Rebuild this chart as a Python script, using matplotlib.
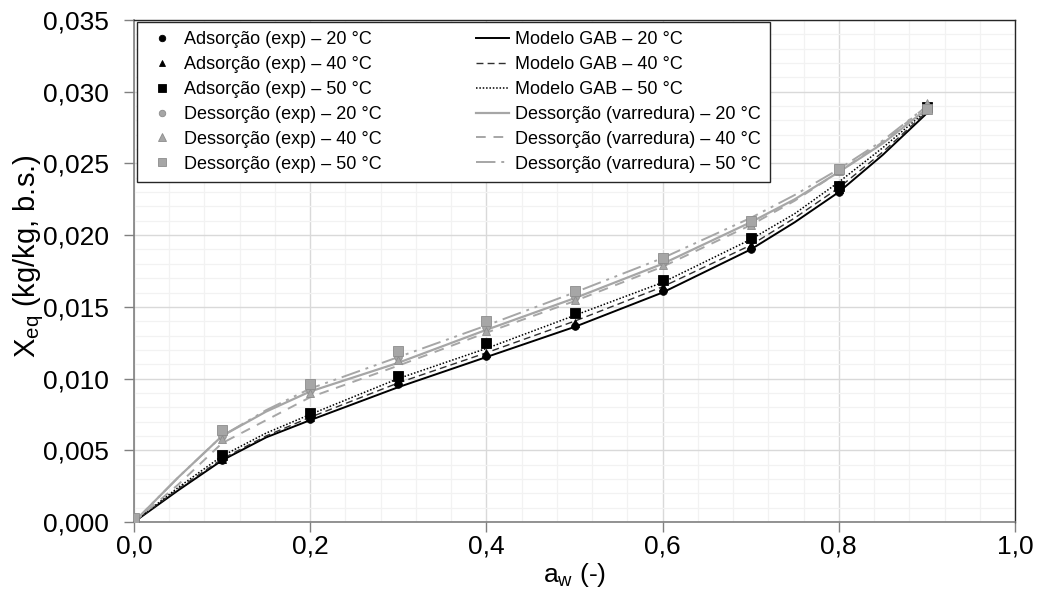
import matplotlib
matplotlib.use('Agg')
import matplotlib.pyplot as plt
from matplotlib.lines import Line2D
from matplotlib.ticker import MultipleLocator, FuncFormatter

###############################################################################
#0. Data
###############################################################################

#Experimental points
awExp = [0.0, 0.1, 0.2, 0.3, 0.4, 0.5, 0.6, 0.7, 0.8, 0.9]
ads20 = [0.0000, 0.0043, 0.0072, 0.0096, 0.0116, 0.0137, 0.0161, 0.0190, 0.0230, 0.0287]
ads40 = [0.0000, 0.0044, 0.0073, 0.0098, 0.0118, 0.0139, 0.0164, 0.0193, 0.0232, 0.0288]
ads50 = [0.0000, 0.0047, 0.0076, 0.0102, 0.0125, 0.0146, 0.0169, 0.0198, 0.0234, 0.0289]
des20 = [0.0003, 0.0060, 0.0092, 0.0115, 0.0136, 0.0157, 0.0181, 0.0208, 0.0245, 0.0289]
des40 = [0.0003, 0.0058, 0.0090, 0.0113, 0.0133, 0.0155, 0.0179, 0.0207, 0.0245, 0.0292]
des50 = [0.0003, 0.0064, 0.0096, 0.0119, 0.0140, 0.0161, 0.0184, 0.0210, 0.0246, 0.0288]

#Model / scanning curves
awFit = [0.0, 0.05, 0.1, 0.15, 0.2, 0.3, 0.4, 0.5, 0.6, 0.7, 0.75, 0.8, 0.85, 0.9]
gab20 = [0, 0.0022, 0.0043, 0.0059, 0.0071, 0.0094, 0.0115, 0.0136, 0.0160, 0.0190, 0.0209, 0.0230, 0.0256, 0.0285]
gab40 = [0, 0.0023, 0.0044, 0.0060, 0.0073, 0.0097, 0.0118, 0.0140, 0.0164, 0.0193, 0.0212, 0.0233, 0.0258, 0.0286]
gab50 = [0, 0.0024, 0.0046, 0.0062, 0.0075, 0.0100, 0.0121, 0.0144, 0.0167, 0.0197, 0.0215, 0.0237, 0.0261, 0.0287]
var20 = [0, 0.0031, 0.0060, 0.0077, 0.0091, 0.0111, 0.0134, 0.0156, 0.0180, 0.0209, 0.0225, 0.0244, 0.0264, 0.0288]
var40 = [0, 0.0026, 0.0055, 0.0071, 0.0087, 0.0109, 0.0132, 0.0154, 0.0178, 0.0207, 0.0224, 0.0244, 0.0265, 0.0290]
var50 = [0, 0.0031, 0.0060, 0.0078, 0.0093, 0.0115, 0.0137, 0.0160, 0.0184, 0.0212, 0.0228, 0.0246, 0.0266, 0.0290]

expLabels = ['Adsorção (exp) – 20 °C', 'Adsorção (exp) – 40 °C', 'Adsorção (exp) – 50 °C',
             'Dessorção (exp) – 20 °C', 'Dessorção (exp) – 40 °C', 'Dessorção (exp) – 50 °C']
fitLabels = ['Modelo GAB – 20 °C', 'Modelo GAB – 40 °C', 'Modelo GAB – 50 °C',
             'Dessorção (varredura) – 20 °C', 'Dessorção (varredura) – 40 °C', 'Dessorção (varredura) – 50 °C']

###############################################################################
#1. Styling
###############################################################################

plt.rcParams['font.family'] = ['Liberation Sans', 'DejaVu Sans']
plt.rcParams['mathtext.fontset'] = 'custom'
plt.rcParams['mathtext.rm'] = 'Liberation Sans'
plt.rcParams['mathtext.it'] = 'Liberation Sans'

black = '#000000'
gray = '#A6A6A6'
grayEdge = '#8C8C8C'

fig = plt.figure(figsize=(10.38, 5.92), dpi=100)
ax = fig.add_axes([134/1038, 70/592, 881/1038, 502/592])

#Lines first so the markers sit on top
fitSeries = [gab20, gab40, gab50, var20, var40, var50]
fitColors = [black, '#303030', black, gray, gray, gray]
fitStyles = ['-', (0, (5, 3)), (0, (1, 1.2)), '-', (0, (5, 4)), (0, (10, 3, 1.5, 3, 1.5, 3))]
fitWidths = [1.4, 1.0, 1.1, 1.6, 1.4, 1.4]
lineHandles = []
for ys, c, ls, lw in zip(fitSeries, fitColors, fitStyles, fitWidths):
    h, = ax.plot(awFit, ys, color=c, linestyle=ls, linewidth=lw, zorder=3)
    lineHandles.append(h)

expSeries = [ads20, ads40, ads50, des20, des40, des50]
expMarkers = ['o', '^', 's', 'o', '^', 's']
expFace = [black, black, black, gray, gray, gray]
expEdge = [black, black, black, grayEdge, grayEdge, grayEdge]
expSize = [5.5, 5.5, 6.5, 5.5, 6, 7]
markerHandles = []
for ys, m, fc, ec, ms in zip(expSeries, expMarkers, expFace, expEdge, expSize):
    ax.plot(awExp, ys, linestyle='none', marker=m, markersize=ms,
            markerfacecolor=fc, markeredgecolor=ec, markeredgewidth=0.6, zorder=4)
    markerHandles.append(Line2D([], [], linestyle='none', marker=m, markersize=ms*0.85,
                                markerfacecolor=fc, markeredgecolor=ec, markeredgewidth=0.6))

#Axes limits, ticks and grid
ax.set_xlim(0, 1.0)
ax.set_ylim(0, 0.035)
ax.xaxis.set_major_locator(MultipleLocator(0.2))
ax.xaxis.set_minor_locator(MultipleLocator(0.04))
ax.yaxis.set_major_locator(MultipleLocator(0.005))
ax.yaxis.set_minor_locator(MultipleLocator(0.001))
ax.xaxis.set_major_formatter(FuncFormatter(lambda v, p: f'{v:.1f}'.replace('.', ',')))
ax.yaxis.set_major_formatter(FuncFormatter(lambda v, p: f'{v:.3f}'.replace('.', ',')))
ax.grid(which='major', color='#D9D9D9', linewidth=1.0, zorder=0)
ax.grid(which='minor', color='#F2F2F2', linewidth=0.9, zorder=0)
ax.set_axisbelow(True)
ax.tick_params(which='major', direction='out', length=7, width=1, color='#808080', labelsize=19)
ax.tick_params(which='minor', length=0)
ax.tick_params(axis='x', pad=2)
ax.tick_params(axis='y', pad=11)

for side in ['left', 'bottom']:
    ax.spines[side].set_color('#808080')
    ax.spines[side].set_linewidth(1.2)
for side in ['top', 'right']:
    ax.spines[side].set_color('#262626')
    ax.spines[side].set_linewidth(1.0)

ax.set_xlabel(r'a$_{\rm w}$ (-)', fontsize=19)
ax.set_ylabel(r'X$_{\rm eq}$ (kg/kg, b.s.)', fontsize=21)
ax.xaxis.set_label_coords(0.5, -0.078)
ax.yaxis.set_label_coords(-0.1, 0.53)

#Legend: markers in the first column, lines in the second
leg = ax.legend(markerHandles + lineHandles, expLabels + fitLabels, ncol=2,
                loc='upper left', bbox_to_anchor=(0.003, 0.996), fontsize=13,
                frameon=True, fancybox=False, edgecolor='#262626', framealpha=1,
                handlelength=1.8, handletextpad=0.35, columnspacing=5.2,
                labelspacing=0.44, borderpad=0.5, borderaxespad=0)
leg.get_frame().set_linewidth(1.0)
leg.set_zorder(5)

###############################################################################
#2. Save figure
###############################################################################

fig.savefig('out.png', dpi=100)
